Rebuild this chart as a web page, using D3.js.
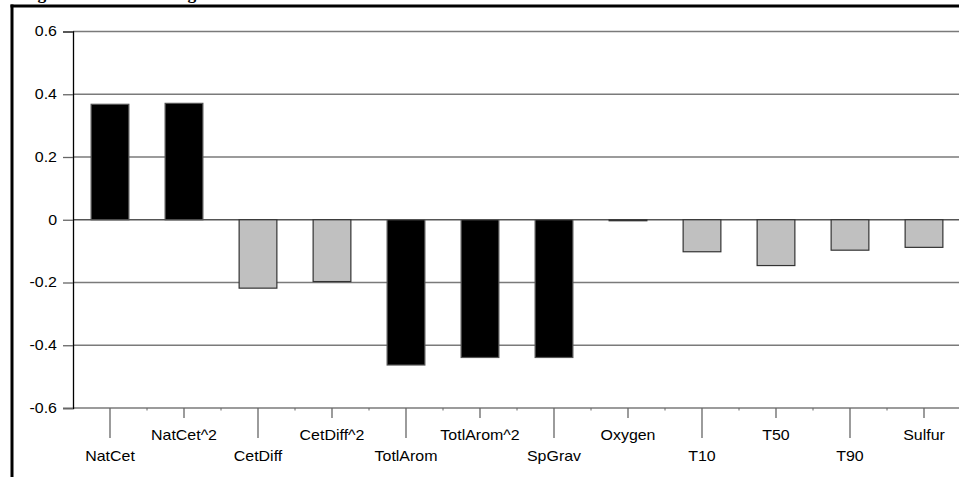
<!DOCTYPE html>
<html>
<head>
<meta charset="utf-8">
<script src="https://cdn.jsdelivr.net/npm/d3@7/dist/d3.min.js"></script>
<style>
  html, body { margin: 0; padding: 0; background: #fff; }
  svg { display: block; }
  text { font-family: Arial, "Liberation Sans", sans-serif; }
</style>
</head>
<body>
<svg id="chart" width="959" height="477"></svg>
<script>
// Variable names along the x axis
const categories = ["NatCet", "NatCet^2", "CetDiff", "CetDiff^2", "TotlArom", "TotlArom^2",
                    "SpGrav", "Oxygen", "T10", "T50", "T90", "Sulfur"];
// Coefficient for each variable
const values = [0.368, 0.371, -0.218, -0.197, -0.463, -0.439,
                -0.439, -0.002, -0.102, -0.146, -0.097, -0.088];
// Which bars are drawn solid black
const emphasis = [true, true, false, false, true, true,
                  true, false, false, false, false, false];
// Y axis tick values and labels
const yTicks = [0.6, 0.4, 0.2, 0, -0.2, -0.4, -0.6];
const yTickLabels = ["0.6", "0.4", "0.2", "0", "-0.2", "-0.4", "-0.6"];
const title = "Figure 1. Relative Weights";

const svg = d3.select("#chart");
const W = 959, H = 477;
const plot = { left: 73, right: 961, top: 31.5, bottom: 408 };
const widen = 1.14; // labels are set slightly wide

const x = d3.scaleBand().domain(categories).range([plot.left, plot.right]).paddingInner(0.49).paddingOuter(0.245);
const xc = d3.scalePoint().domain(categories).range([plot.left, plot.right]).padding(0.5);
const y = d3.scaleLinear().domain([-0.6, 0.6]).range([plot.bottom, plot.top]);

// Title, mostly cut off at the top edge
svg.append("text")
  .attr("x", 22).attr("y", -1)
  .attr("font-weight", "bold")
  .attr("font-size", 17.5)
  .style("font-family", "'Liberation Serif', 'Times New Roman', serif")
  .text(title);

// Frame lines at top and left
svg.append("line").attr("x1", 10.5).attr("x2", W).attr("y1", 6).attr("y2", 6)
  .attr("stroke", "#000").attr("stroke-width", 3);
svg.append("line").attr("x1", 12).attr("x2", 12).attr("y1", 4.5).attr("y2", H)
  .attr("stroke", "#000").attr("stroke-width", 3);

// Horizontal gridlines
svg.append("g").selectAll("line").data(yTicks).join("line")
  .attr("x1", plot.left).attr("x2", W)
  .attr("y1", d => y(d)).attr("y2", d => y(d))
  .attr("stroke", d => d === 0 ? "#555" : "#7a7a7a")
  .attr("stroke-width", 1.4);

// Bars
svg.append("g").selectAll("rect").data(categories).join("rect")
  .attr("x", d => x(d))
  .attr("width", x.bandwidth())
  .attr("y", (d, i) => y(Math.max(0, values[i])))
  .attr("height", (d, i) => Math.max(1, Math.abs(y(values[i]) - y(0))))
  .attr("fill", (d, i) => emphasis[i] ? "#000" : "#c0c0c0")
  .attr("stroke", (d, i) => emphasis[i] ? "#555" : "#333")
  .attr("stroke-width", 1.2);

// Y axis
const yAxis = d3.axisLeft(y).tickValues(yTicks)
  .tickFormat((d, i) => yTickLabels[i]).tickSize(10).tickPadding(6);
const gy = svg.append("g").attr("transform", `translate(${plot.left},0)`).call(yAxis);
gy.select(".domain").attr("stroke", "#000").attr("stroke-width", 1.3);
gy.selectAll(".tick line").attr("stroke", "#666").attr("stroke-width", 1.3);
gy.selectAll(".tick text")
  .attr("font-size", 14).attr("fill", "#000")
  .attr("font-family", "Arial, 'Liberation Sans', sans-serif")
  .attr("x", null)
  .attr("transform", `translate(-16,0) scale(${widen},1)`);

// X axis: alternating long and short ticks at category centres
const gx = svg.append("g");
// minor ticks at band boundaries
const bounds = d3.range(categories.length + 1).map(i => plot.left + i * x.step());
gx.selectAll("line.minor").data(bounds.slice(1, -1)).join("line")
  .attr("class", "minor")
  .attr("x1", d => d).attr("x2", d => d)
  .attr("y1", plot.bottom).attr("y2", plot.bottom + 2.5)
  .attr("stroke", "#666").attr("stroke-width", 1);
gx.selectAll("line.major").data(categories).join("line")
  .attr("class", "major")
  .attr("x1", d => xc(d)).attr("x2", d => xc(d))
  .attr("y1", plot.bottom)
  .attr("y2", (d, i) => plot.bottom + (i % 2 === 0 ? 30 : 10))
  .attr("stroke", "#666").attr("stroke-width", 1.3);
gx.selectAll("text").data(categories).join("text")
  .attr("transform", (d, i) => `translate(${xc(d)},${i % 2 === 0 ? 461 : 440}) scale(${widen},1)`)
  .attr("text-anchor", "middle")
  .attr("font-size", 14)
  .attr("fill", "#000")
  .text(d => d);
</script>
</body>
</html>
